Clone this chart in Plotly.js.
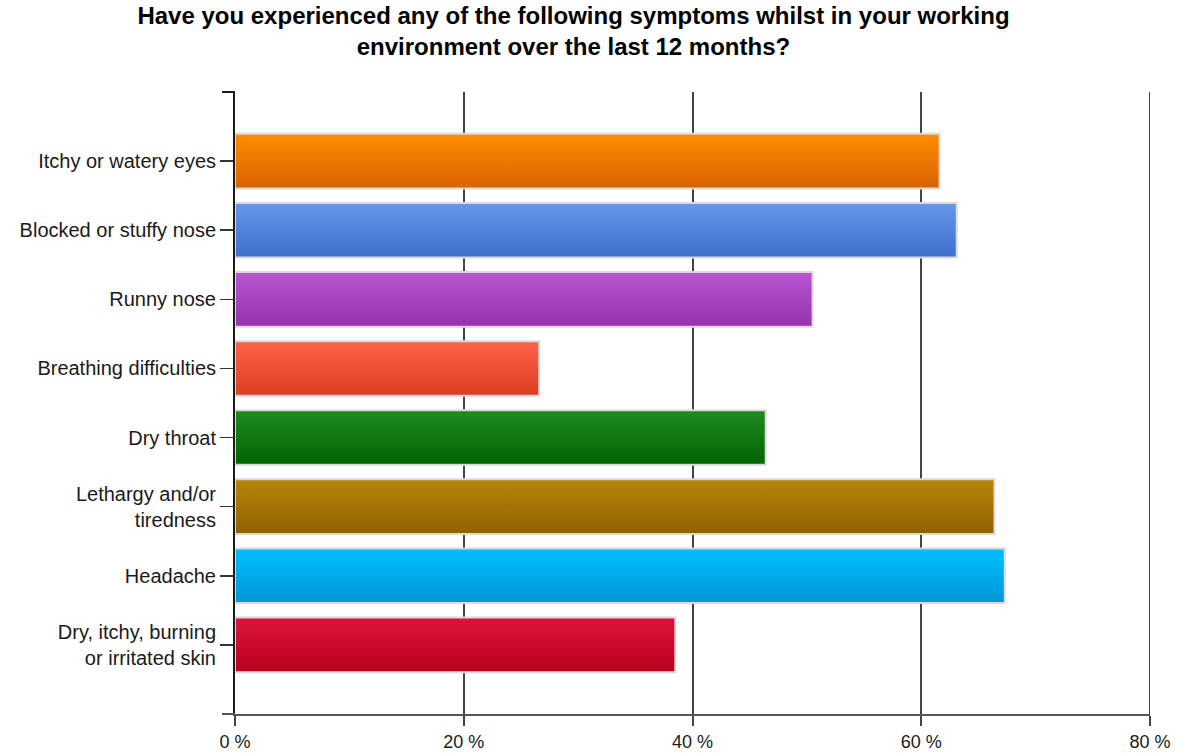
<!DOCTYPE html>
<html>
<head>
<meta charset="utf-8">
<script src="https://cdn.plot.ly/plotly-3.0.1.min.js"></script>
<style>
  html, body { margin: 0; padding: 0; background: #ffffff; }
  #chart { width: 1180px; height: 753px; }
</style>
</head>
<body>
<div id="chart"></div>
<script>
// Symptom categories, top to bottom
const symptoms = [
  "Itchy or watery eyes",
  "Blocked or stuffy nose",
  "Runny nose",
  "Breathing difficulties",
  "Dry throat",
  "Lethargy and/or<br>tiredness",
  "Headache",
  "Dry, itchy, burning<br>or irritated skin"
];

// Share of respondents reporting each symptom (%)
const percentages = [61.6, 63.1, 50.5, 26.6, 46.4, 66.4, 67.3, 38.5];

// Axis ticks
const xTickValues = [0, 20, 40, 60, 80];
const xTickLabels = ["0 %", "20 %", "40 %", "60 %", "80 %"];

// Bar colours: light top edge and dark bottom edge of each gradient
const topColors = ["#ff8c00", "#6797ea", "#b955d2", "#ff6448", "#208a22", "#b8860b", "#00bfff", "#dc143c"];
const bottomColors = ["#d86300", "#3e6ecb", "#9532ac", "#db3d21", "#006400", "#8f6200", "#0096d4", "#b8001e"];

const fontFamily = "Liberation Sans, Arial, sans-serif";

const trace = {
  type: "bar",
  orientation: "h",
  y: symptoms,
  x: percentages,
  marker: {
    color: topColors,
    line: { color: "#dadada", width: 2 }
  },
  hoverinfo: "y+x"
};

const layout = {
  width: 1180,
  height: 753,
  paper_bgcolor: "#ffffff",
  plot_bgcolor: "#ffffff",
  margin: { l: 235, r: 30, t: 92, b: 39 },
  bargap: 0.21,
  showlegend: false,
  title: {
    text: "<b>Have you experienced any of the following symptoms whilst in your working<br>environment over the last 12 months?</b>",
    font: { family: fontFamily, size: 24, color: "#000000" },
    x: 0.486,
    xanchor: "center",
    xref: "container",
    yref: "container",
    y: 0.968,
    yanchor: "top"
  },
  xaxis: {
    range: [0, 80],
    tickmode: "array",
    tickvals: xTickValues,
    ticktext: xTickLabels,
    showgrid: true,
    gridcolor: "#444444",
    gridwidth: 2,
    zeroline: false,
    showline: true,
    linecolor: "#555555",
    linewidth: 2,
    ticks: "outside",
    ticklen: 10,
    tickwidth: 2,
    tickcolor: "#444444",
    tickfont: { family: fontFamily, size: 18, color: "#1a1a1a" },
    fixedrange: true
  },
  yaxis: {
    type: "category",
    categoryorder: "array",
    categoryarray: symptoms,
    range: [8, -1],
    showgrid: false,
    zeroline: false,
    showline: true,
    linecolor: "#1a1a1a",
    linewidth: 2,
    ticks: "outside",
    ticklen: 13,
    tickwidth: 1.5,
    tickcolor: "#333333",
    tickfont: { family: fontFamily, size: 20, color: "#1a1a1a" },
    fixedrange: true
  },
  shapes: [
    // end caps on the category axis
    { type: "line", xref: "paper", yref: "paper", xsizemode: "pixel", xanchor: 0,
      x0: -13, x1: 0, y0: 1, y1: 1, line: { color: "#1a1a1a", width: 2 } },
    { type: "line", xref: "paper", yref: "paper", xsizemode: "pixel", xanchor: 0,
      x0: -13, x1: 0, y0: 0, y1: 0, line: { color: "#555555", width: 2 } },
    // right-hand boundary line at the top of the scale
    { type: "line", xref: "x", yref: "paper", x0: 80, x1: 80, y0: 0, y1: 1,
      line: { color: "#444444", width: 2 }, layer: "below" }
  ]
};

Plotly.newPlot("chart", [trace], layout, { displayModeBar: false, staticPlot: true }).then(function (gd) {
  // Vertical shading for each bar: lighter at the top, darker at the bottom
  const svg = gd.querySelector(".main-svg");
  const ns = "http://www.w3.org/2000/svg";
  let defs = svg.querySelector("defs");
  if (!defs) { defs = document.createElementNS(ns, "defs"); svg.insertBefore(defs, svg.firstChild); }
  topColors.forEach(function (c, i) {
    const g = document.createElementNS(ns, "linearGradient");
    g.setAttribute("id", "barShade" + i);
    g.setAttribute("x1", "0"); g.setAttribute("y1", "0");
    g.setAttribute("x2", "0"); g.setAttribute("y2", "1");
    const s1 = document.createElementNS(ns, "stop");
    s1.setAttribute("offset", "0"); s1.setAttribute("stop-color", c);
    const s2 = document.createElementNS(ns, "stop");
    s2.setAttribute("offset", "1"); s2.setAttribute("stop-color", bottomColors[i]);
    g.appendChild(s1); g.appendChild(s2);
    defs.appendChild(g);
  });
  const paths = gd.querySelectorAll(".trace.bars .point path");
  paths.forEach(function (p, i) {
    p.style.fill = "url(#barShade" + i + ")";
  });
});
</script>
</body>
</html>
